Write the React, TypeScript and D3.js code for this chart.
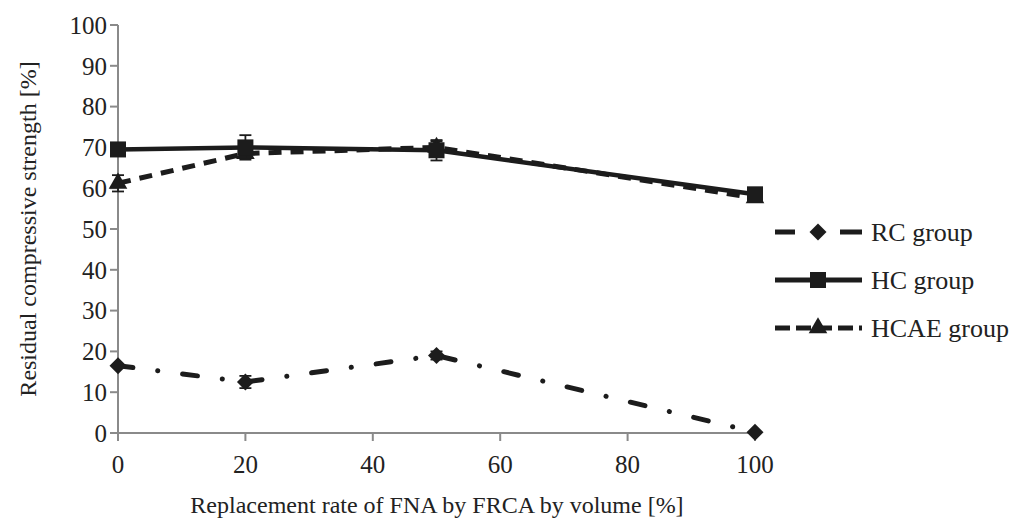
import React from "react";
import * as d3 from "d3";

const xValues = [0, 20, 50, 100];
const rcValues = [16.5, 12.5, 19.0, 0.2];
const hcValues = [69.5, 70.0, 69.3, 58.5];
const hcaeValues = [61.2, 68.5, 70.0, 57.6];
const rcErr = [0, 1.5, 1.0, 0];
const hcErr = [0, 3.0, 2.5, 0];
const hcaeErr = [2.0, 1.0, 1.5, 0];
const xTicks = [0, 20, 40, 60, 80, 100];
const yTicks = [0, 10, 20, 30, 40, 50, 60, 70, 80, 90, 100];
const seriesNames = ["RC group", "HC group", "HCAE group"];

const W = 1026;
const H = 521;
const FONT = "'Liberation Serif', 'Times New Roman', Times, serif";
const INK = "#1c1c1c";
const AXIS = "#8a8a8a";
const TXT = "#222";

export default function App() {
  const x = d3.scaleLinear().domain([0, 100]).range([118, 755]);
  const y = d3.scaleLinear().domain([0, 100]).range([433, 25]);
  const line = d3
    .line<number>()
    .x((_, i) => x(xValues[i]))
    .y((v) => y(v));

  const series = [
    { name: seriesNames[0], vals: rcValues, err: rcErr, dash: "15 25 0.1 25", cap: "round", marker: "diamond" },
    { name: seriesNames[2], vals: hcaeValues, err: hcaeErr, dash: "13 9", cap: "butt", marker: "triangle" },
    { name: seriesNames[1], vals: hcValues, err: hcErr, dash: "", cap: "butt", marker: "square" },
  ];

  const marker = (type: string, cx: number, cy: number, key: string) => {
    if (type === "square") {
      return <rect key={key} x={cx - 8} y={cy - 8} width={16} height={16} fill={INK} />;
    }
    if (type === "triangle") {
      const s = d3.symbol().type(d3.symbolTriangle).size(150)();
      return <path key={key} d={s || ""} transform={`translate(${cx},${cy})`} fill={INK} />;
    }
    return (
      <rect
        key={key}
        x={-6}
        y={-6}
        width={12}
        height={12}
        fill={INK}
        transform={`translate(${cx},${cy}) rotate(45)`}
      />
    );
  };

  const legendY = [232, 280, 328];
  const legendOrder = [
    { name: seriesNames[0], dash: "20 45 22", marker: "diamond" },
    { name: seriesNames[1], dash: "", marker: "square" },
    { name: seriesNames[2], dash: "15 6", marker: "triangle" },
  ];

  const tStyle = { fontFamily: FONT };

  return (
    <svg
      width={W}
      height={H}
      fontFamily={FONT}
      style={{ position: "absolute", left: 0, top: 0, background: "#fff", fontFamily: FONT }}
    >
      <style>{`svg text { font-family: 'Liberation Serif', 'Times New Roman', Times, serif !important; }`}</style>
      <rect width={W} height={H} fill="#fff" />
      <line x1={x(0)} x2={x(0)} y1={y(100)} y2={y(0)} stroke={AXIS} strokeWidth={2} />
      <line x1={x(0)} x2={x(100)} y1={y(0)} y2={y(0)} stroke={AXIS} strokeWidth={2} />
      {yTicks.map((t) => (
        <g key={"yt" + t}>
          <line x1={x(0) - 8} x2={x(0)} y1={y(t)} y2={y(t)} stroke={AXIS} strokeWidth={2} />
          <text x={x(0) - 11} y={y(t)} dy="0.35em" textAnchor="end" fontSize={25} fill={TXT} fontFamily={FONT} style={tStyle}>
            {t}
          </text>
        </g>
      ))}
      {xTicks.map((t) => (
        <g key={"xt" + t}>
          <line x1={x(t)} x2={x(t)} y1={y(0)} y2={y(0) + 8} stroke={AXIS} strokeWidth={2} />
          <text x={x(t)} y={y(0) + 40} textAnchor="middle" fontSize={25} fill={TXT} fontFamily={FONT} style={tStyle}>
            {t}
          </text>
        </g>
      ))}
      <text
        transform={`translate(36, ${y(50)}) rotate(-90)`}
        textAnchor="middle"
        fontSize={24}
        fill={TXT}
        fontFamily={FONT}
        style={tStyle}
      >
        Residual compressive strength [%]
      </text>
      <text x={437} y={513} textAnchor="middle" fontSize={24} fill={TXT} fontFamily={FONT} style={tStyle}>
        Replacement rate of FNA by FRCA by volume [%]
      </text>

      {series.map((s) => (
        <g key={s.name}>
          <path
            d={line(s.vals) || ""}
            fill="none"
            stroke={INK}
            strokeWidth={s.marker === "square" ? 4.5 : 5}
            strokeDasharray={s.dash || undefined}
            strokeLinecap={s.cap as any}
          />
          {s.vals.map((v, i) =>
            s.err[i] > 0 ? (
              <g key={"e" + i} stroke={INK} strokeWidth={1.8}>
                <line x1={x(xValues[i])} x2={x(xValues[i])} y1={y(v + s.err[i])} y2={y(v - s.err[i])} />
                <line x1={x(xValues[i]) - 6} x2={x(xValues[i]) + 6} y1={y(v + s.err[i])} y2={y(v + s.err[i])} />
                <line x1={x(xValues[i]) - 6} x2={x(xValues[i]) + 6} y1={y(v - s.err[i])} y2={y(v - s.err[i])} />
              </g>
            ) : null
          )}
          {s.vals.map((v, i) => marker(s.marker, x(xValues[i]), y(v), s.name + i))}
        </g>
      ))}

      {legendOrder.map((l, i) => (
        <g key={"lg" + l.name}>
          <line
            x1={775}
            x2={862}
            y1={legendY[i]}
            y2={legendY[i]}
            stroke={INK}
            strokeWidth={5}
            strokeDasharray={l.dash || undefined}
          />
          {marker(l.marker, 818, legendY[i], "lm" + i)}
          <text x={871} y={legendY[i]} dy="0.35em" fontSize={26} fill={TXT} fontFamily={FONT} style={tStyle}>
            {l.name}
          </text>
        </g>
      ))}
    </svg>
  );
}
